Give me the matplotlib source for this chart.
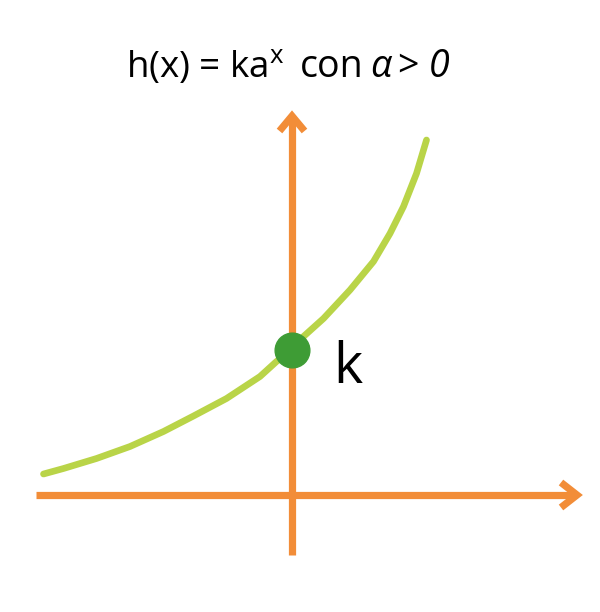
import matplotlib
matplotlib.use("Agg")
import matplotlib.pyplot as plt

# curve points (1 unit = 50 px)
curve_x = [-4.97, -4.57, -3.91, -3.24, -2.57, -1.97, -1.31, -0.64, -0.31, 0.0,
           0.23, 0.63, 1.16, 1.63, 1.96, 2.23, 2.49, 2.69]
curve_y = [0.42, 0.53, 0.73, 0.97, 1.27, 1.58, 1.93, 2.37, 2.67, 2.90,
           3.17, 3.53, 4.10, 4.67, 5.23, 5.77, 6.43, 7.10]
k_point = (0.0, 2.9)

title_parts = ["h(x) = ka$^{\\mathrm{x}}$", "con", "α", ">", "0"]
title_styles = ["normal", "normal", "italic", "normal", "italic"]
title_left = [-3.32, 0.15, 1.56, 2.10, 2.74]

ORANGE = "#F28D38"
CURVE = "#B9D448"
DOT = "#3E9C35"

plt.rcParams["mathtext.fontset"] = "custom"
plt.rcParams["mathtext.rm"] = "Open Sans"
plt.rcParams["mathtext.it"] = "Open Sans:italic"

fig = plt.figure(figsize=(6, 6.12), dpi=100, facecolor="white")
ax = fig.add_axes([0, 0, 1, 1])
ax.set_xlim(-5.84, 6.16)
ax.set_ylim(-2.34, 9.9)
ax.axis("off")

# axis lines
ax.plot([-5.12, 5.66], [0, 0], color=ORANGE, lw=5.2, solid_capstyle="butt", zorder=1)
ax.plot([0, 0], [-1.2, 7.5], color=ORANGE, lw=5.2, solid_capstyle="butt", zorder=1)

# chevron arrow heads
ax.plot([5.38, 5.70, 5.38], [0.25, 0, -0.25], color=ORANGE, lw=5.2,
        solid_joinstyle="miter", solid_capstyle="butt", zorder=1)
ax.plot([-0.25, 0, 0.25], [7.28, 7.58, 7.28], color=ORANGE, lw=5.2,
        solid_joinstyle="miter", solid_capstyle="butt", zorder=1)

# curve
ax.plot(curve_x, curve_y, color=CURVE, lw=4.8, solid_capstyle="round",
        solid_joinstyle="round", zorder=2)

# point k
ax.plot(*k_point, "o", color=DOT, markersize=25, zorder=3)
ax.text(k_point[0] + 0.82, k_point[1] - 0.66, "k", fontsize=40, family="Open Sans",
        ha="left", va="baseline", color="black")

# title, piece by piece so the italic parts work
for i, (part, style, x0) in enumerate(zip(title_parts, title_styles, title_left)):
    ax.text(x0, 8.36, part, fontsize=26.5 if i == 0 else 27, family="Open Sans",
            style=style, ha="left", va="baseline", color="black")

plt.savefig("out.png", dpi=100, facecolor="white")
